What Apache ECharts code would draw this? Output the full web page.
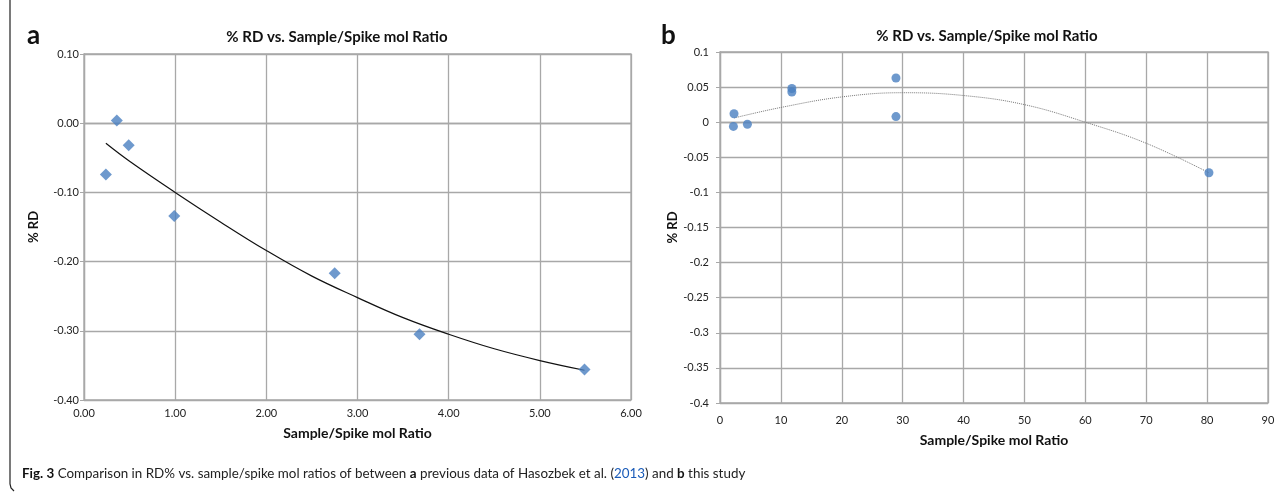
<!DOCTYPE html>
<html>
<head>
<meta charset="utf-8">
<script src="https://cdn.jsdelivr.net/npm/echarts@6/dist/echarts.min.js"></script>
<style>
html,body{margin:0;padding:0;background:#fff;}
#c{width:1284px;height:494px;}
</style>
</head>
<body>
<div id="c"></div>
<script>
// Panel a: previous data (Hasozbek et al. 2013)
const aX = [0.24, 0.36, 0.49, 0.99, 2.75, 3.68, 5.49];
const aY = [-0.074, 0.004, -0.032, -0.134, -0.217, -0.305, -0.356];
const aTrendX = [0.24, 0.5, 1.0, 1.5, 2.0, 2.5, 3.0, 3.5, 4.0, 4.5, 5.0, 5.49];
const aTrendY = [-0.029, -0.055, -0.100, -0.143, -0.184, -0.221, -0.252, -0.281, -0.305, -0.326, -0.343, -0.357];
// Panel b: this study
const bX = [2.2, 2.3, 4.5, 11.8, 11.8, 28.9, 28.9, 80.3];
const bY = [-0.006, 0.012, -0.003, 0.048, 0.043, 0.063, 0.008, -0.072];
const bTrendX = [2.3, 10, 20, 30, 40, 50, 60, 70, 80.3];
const bTrendY = [0.006, 0.021, 0.036, 0.042, 0.038, 0.025, 0.0, -0.030, -0.072];

const titleText = '% RD vs. Sample/Spike mol Ratio';
const xName = 'Sample/Spike mol Ratio';
const yName = '% RD';

const zip = (xs, ys) => xs.map((x, i) => [x, ys[i]]);
const FONT = 'Lato';
const gridColor = '#a8a8a8';

function xAxis(gi, min, max, interval, fmt, gap, margin) {
  return {
    gridIndex: gi, type: 'value', min, max, interval,
    name: xName, nameLocation: 'middle', nameGap: gap,
    nameTextStyle: {fontFamily: FONT, fontWeight: 'bold', fontSize: 14, color: '#111'},
    axisLine: {show: true, lineStyle: {color: gridColor, width: 1.3}},
    axisTick: {show: true, length: 4, lineStyle: {color: gridColor}},
    axisLabel: {fontFamily: FONT, fontSize: 11, color: '#222', margin: margin, formatter: fmt},
    splitLine: {show: true, lineStyle: {color: gridColor, width: 1.3}}
  };
}
function yAxis(gi, min, max, interval, fmt, gap, margin) {
  return {
    gridIndex: gi, type: 'value', min, max, interval,
    name: yName, nameLocation: 'middle', nameGap: gap, nameRotate: 90,
    nameTextStyle: {fontFamily: FONT, fontWeight: 'bold', fontSize: 13, color: '#111'},
    axisLine: {show: true, lineStyle: {color: gridColor, width: 1.3}},
    axisTick: {show: true, length: 4, lineStyle: {color: gridColor}},
    axisLabel: {fontFamily: FONT, fontSize: 11, color: '#222', margin: margin, formatter: fmt},
    splitLine: {show: true, lineStyle: {color: gridColor, width: 1.3}}
  };
}

const chart = echarts.init(document.getElementById('c'), null, {renderer: 'canvas'});
chart.setOption({
  backgroundColor: '#fff',
  animation: false,
  title: [
    {text: titleText, left: 332, top: 25, textAlign: 'center',
     textStyle: {fontFamily: FONT, fontWeight: 'bold', fontSize: 15, color: '#111'}},
    {text: titleText, left: 982, top: 24, textAlign: 'center',
     textStyle: {fontFamily: FONT, fontWeight: 'bold', fontSize: 15, color: '#111'}}
  ],
  grid: [
    {left: 84, top: 54, width: 547, height: 346, show: true, borderColor: gridColor, borderWidth: 1.3},
    {left: 720, top: 52, width: 548, height: 351, show: true, borderColor: gridColor, borderWidth: 1.3}
  ],
  xAxis: [
    xAxis(0, 0, 6, 1, v => v.toFixed(2), 26, 8),
    xAxis(1, 0, 90, 10, v => String(v), 30, 12)
  ],
  yAxis: [
    yAxis(0, -0.4, 0.1, 0.1, v => v.toFixed(2), 44, 5),
    yAxis(1, -0.4, 0.1, 0.05, v => String(+v.toFixed(2)), 40, 11)
  ],
  series: [
    {type: 'line', xAxisIndex: 0, yAxisIndex: 0, data: zip(aTrendX, aTrendY), smooth: 0.4,
     showSymbol: false, lineStyle: {color: '#111', width: 1.2}, z: 2},
    {type: 'scatter', xAxisIndex: 0, yAxisIndex: 0, data: zip(aX, aY), symbol: 'diamond', symbolSize: 12,
     itemStyle: {color: '#4a7fc1'}, z: 3},
    {type: 'line', xAxisIndex: 1, yAxisIndex: 1, data: zip(bTrendX, bTrendY), smooth: 0.4,
     showSymbol: false, lineStyle: {color: '#777', width: 1, type: 'dotted'}, z: 2},
    {type: 'scatter', xAxisIndex: 1, yAxisIndex: 1, data: zip(bX, bY), symbol: 'circle', symbolSize: 9,
     itemStyle: {color: '#4a7fc1'}, z: 3}
  ],
  graphic: [
    {type: 'text', left: 27, top: 23, style: {text: 'a', fontFamily: FONT, fontWeight: 'bold', fontSize: 26, fill: '#111'}},
    {type: 'text', left: 661, top: 23, style: {text: 'b', fontFamily: FONT, fontWeight: 'bold', fontSize: 26, fill: '#111'}},
    {type: 'polyline', shape: {points: [[10, 0], [10, 484], [11, 488], [14, 491]]},
     style: {stroke: '#222', lineWidth: 1.2, fill: null}},
    {type: 'text', left: 22, top: 467, style: {
      text: '{b|Fig. 3} Comparison in RD% vs. sample/spike mol ratios of between {b|a} previous data of Hasozbek et al. ({l|2013}) and {b|b} this study',
      fontFamily: FONT, fontSize: 13.4, fill: '#222',
      rich: {
        b: {fontFamily: FONT, fontWeight: 'bold', fontSize: 13.4, fill: '#111'},
        l: {fontFamily: FONT, fontSize: 13.4, fill: '#1a5bb8'}
      }
    }}
  ]
});
</script>
</body>
</html>
